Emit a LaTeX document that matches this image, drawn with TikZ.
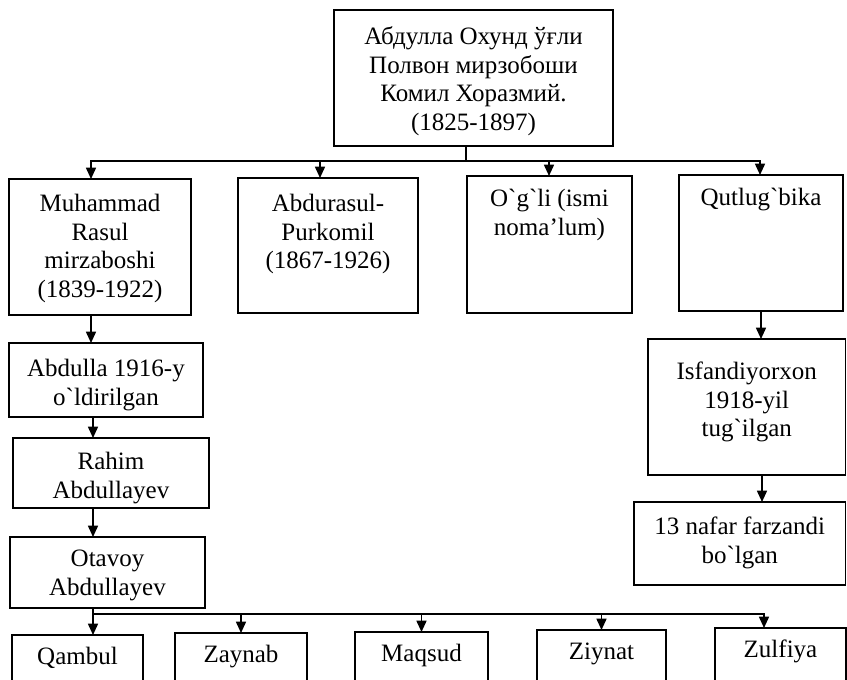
\documentclass[tikz,border=0pt]{standalone}
\usepackage{fontspec}
\setmainfont{Liberation Serif}[Ligatures=TeXOff]
\usetikzlibrary{arrows.meta}
\newdimen\px \px=0.75pt
% height, width, first-baseline offset, text
\newcommand\bx[4]{\parbox[b][#1\px][t]{#2\px}{\centering\rule{0pt}{#3\px}#4}}
\tikzset{
  box/.style={draw, line width=1.3pt, inner sep=0pt, outer sep=0pt, anchor=north west,
              font=\fontsize{18.75pt}{21.3pt}\selectfont},
  link/.style={line width=1.2pt},
  arr/.style={line width=1.2pt, -{Triangle[length=8.5pt,width=7.5pt]}}
}
\begin{document}
\begin{tikzpicture}[x=0.75pt, y=-0.75pt]
\useasboundingbox (0,0) rectangle (847,680);
\clip (0,0) rectangle (847,680);
\fill[white] (0,0) rectangle (847,680);

\node[box] (top) at (334,10) {\bx{136}{279}{35}{Абдулла Охунд ўғли\\Полвон мирзобоши\\Комил Хоразмий.\\(1825-1897)}};

\node[box] (m)  at (9,179)   {\bx{136}{182}{33}{Muhammad\\Rasul\\mirzaboshi\\(1839-1922)}};
\node[box] (ab) at (238,178) {\bx{135}{180}{34}{Abdurasul-\\Purkomil\\(1867-1926)}};
\node[box] (og) at (467,176) {\bx{137}{165}{31}{O`g`li (ismi\\noma’lum)}};
\node[box] (qb) at (679,175) {\bx{136}{164}{31}{Qutlug`bika}};

\node[box] (abd) at (9,343)  {\bx{74}{194}{34}{Abdulla 1916-y\\o`ldirilgan}};
\node[box] (ra)  at (13,438) {\bx{70}{196}{32}{Rahim\\Abdullayev}};
\node[box] (ot)  at (10,537) {\bx{71}{195}{30}{Otavoy\\Abdullayev}};

\node[box] (is) at (648,339) {\bx{136}{197.5}{41}{Isfandiyorxon\\1918-yil\\tug`ilgan}};
\node[box] (nf) at (634,502) {\bx{83}{211.5}{33}{13 nafar farzandi\\bo`lgan}};

\node[box] (qa) at (12,635)  {\bx{60}{131}{30}{Qambul}};
\node[box] (za) at (175,633) {\bx{60}{132}{30}{Zaynab}};
\node[box] (ma) at (355,632) {\bx{60}{133}{30}{Maqsud}};
\node[box] (zi) at (537,630) {\bx{60}{129}{30}{Ziynat}};
\node[box] (zu) at (715,628) {\bx{60}{131}{30}{Zulfiya}};

% first bus
\coordinate (b1) at (466,161);
\draw[link] (top.south -| b1) -- (b1);
\draw[arr] (b1) -| ([xshift=61.5pt]m.north west);
\draw[arr] (b1) -| ([xshift=61.5pt]ab.north west);
\draw[arr] (b1) -| ([xshift=61.5pt]og.north west);
\draw[arr] (b1) -| ([xshift=60.75pt]qb.north west);

% left column
\draw[arr] ([xshift=61.5pt]m.south west) -- ([xshift=61.5pt]m.south west |- abd.north);
\draw[arr] ([xshift=63pt]abd.south west) -- ([xshift=63pt]abd.south west |- ra.north);
\draw[arr] ([xshift=60pt]ra.south west) -- ([xshift=60pt]ra.south west |- ot.north);

% right column
\draw[arr] ([xshift=61.5pt]qb.south west) -- ([xshift=61.5pt]qb.south west |- is.north);
\draw[arr] ([xshift=85.5pt]is.south west) -- ([xshift=85.5pt]is.south west |- nf.north);

% second bus
\coordinate (b2) at (93,614);
\draw[link] (ot.south -| b2) -- (b2);
\draw[arr] (b2) -- (qa.north -| b2);
\draw[arr] (b2) -| (za.north);
\draw[arr] (b2) -| (ma.north);
\draw[arr] (b2) -| (zi.north);
\draw[arr] (b2) -| ([xshift=36.75pt]zu.north west);
\end{tikzpicture}
\end{document}
